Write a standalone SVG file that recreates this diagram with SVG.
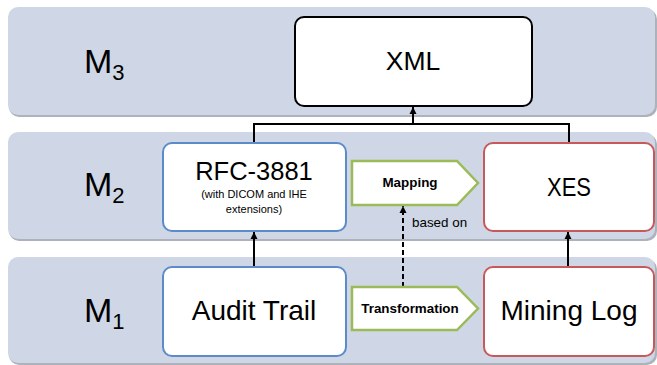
<svg xmlns="http://www.w3.org/2000/svg" width="657" height="365" viewBox="0 0 657 365">
  <style>
    .band { fill: #cfd7e6; }
    .shadow { fill: #aeb3bb; }
    .lvl { font-family: "Liberation Sans", Arial, sans-serif; font-size: 34px; fill: #000; }
    .sub { font-size: 22px; }
    .box { fill: #fff; stroke-width: 2; }
    .blue { stroke: #5b8bc9; }
    .red { stroke: #c9585a; }
    .black { stroke: #000; }
    .green { fill: #fff; stroke: #9bbb59; stroke-width: 2.5; }
    .t { font-family: "Liberation Sans", Arial, sans-serif; fill: #000; text-anchor: middle; }
    .lbl { font-family: "Liberation Sans", Arial, sans-serif; font-weight: bold; font-size: 13.4px; fill: #000; text-anchor: middle; }
    .conn { stroke: #000; stroke-width: 2; fill: none; }
    .dash { stroke-dasharray: 5 3; }
  </style>
  <defs>
    <marker id="arr" viewBox="0 0 10 10" refX="10" refY="5" markerWidth="7" markerHeight="8" markerUnits="userSpaceOnUse" orient="auto">
      <path d="M0,0 L10,5 L0,10 z" fill="#000"/>
    </marker>
  </defs>

  <g id="bands">
    <rect class="shadow" x="9" y="9" width="648" height="108" rx="10"/>
    <rect class="band" x="8" y="7" width="647" height="108" rx="10"/>
    <rect class="shadow" x="9" y="134" width="648" height="107" rx="10"/>
    <rect class="band" x="8" y="132" width="647" height="107" rx="10"/>
    <rect class="shadow" x="9" y="259" width="648" height="106" rx="10"/>
    <rect class="band" x="8" y="257" width="647" height="106" rx="10"/>
    <text class="lvl" x="84" y="73">M<tspan class="sub" dy="7">3</tspan></text>
    <text class="lvl" x="84" y="196">M<tspan class="sub" dy="7">2</tspan></text>
    <text class="lvl" x="84" y="322">M<tspan class="sub" dy="7">1</tspan></text>
  </g>

  <g id="connectors">
    <polyline class="conn" points="254,143 254,124 569,124 569,143"/>
    <line class="conn" x1="413" y1="124" x2="413" y2="107" marker-end="url(#arr)"/>
    <line class="conn" x1="254" y1="267" x2="254" y2="232" marker-end="url(#arr)"/>
    <line class="conn" x1="568" y1="267" x2="568" y2="232" marker-end="url(#arr)"/>
    <line class="conn dash" x1="403" y1="287" x2="403" y2="206" marker-end="url(#arr)"/>
    <text x="412" y="227" font-family="Liberation Sans, Arial, sans-serif" font-size="13.4" fill="#000">based on</text>
  </g>

  <g id="xml">
    <rect class="box black" x="295" y="17" width="237" height="89" rx="9"/>
    <text class="t" x="413" y="70" font-size="26.5">XML</text>
  </g>

  <g id="rfc">
    <rect class="box blue" x="163" y="143" width="183" height="88" rx="9"/>
    <text class="t" x="254" y="180" font-size="25.5">RFC-3881</text>
    <text class="t" x="254" y="198" font-size="11">(with DICOM and IHE</text>
    <text class="t" x="254" y="213" font-size="11">extensions)</text>
  </g>

  <g id="xes">
    <rect class="box red" x="484" y="143" width="170" height="88" rx="9"/>
    <text class="t" x="569" y="196" font-size="26.5" textLength="44" lengthAdjust="spacingAndGlyphs">XES</text>
  </g>

  <g id="mapping">
    <polygon class="green" points="352,161 457,161 478,183 457,205 352,205"/>
    <text class="lbl" x="410" y="187">Mapping</text>
  </g>

  <g id="audit">
    <rect class="box blue" x="163" y="267" width="183" height="89" rx="9"/>
    <text class="t" x="254" y="320" font-size="28">Audit Trail</text>
  </g>

  <g id="transformation">
    <polygon class="green" points="352,287 457,287 478,308.5 457,330 352,330"/>
    <text class="lbl" x="410" y="313">Transformation</text>
  </g>

  <g id="mining">
    <rect class="box red" x="484" y="267" width="170" height="89" rx="9"/>
    <text class="t" x="569" y="320" font-size="28">Mining Log</text>
  </g>
</svg>
